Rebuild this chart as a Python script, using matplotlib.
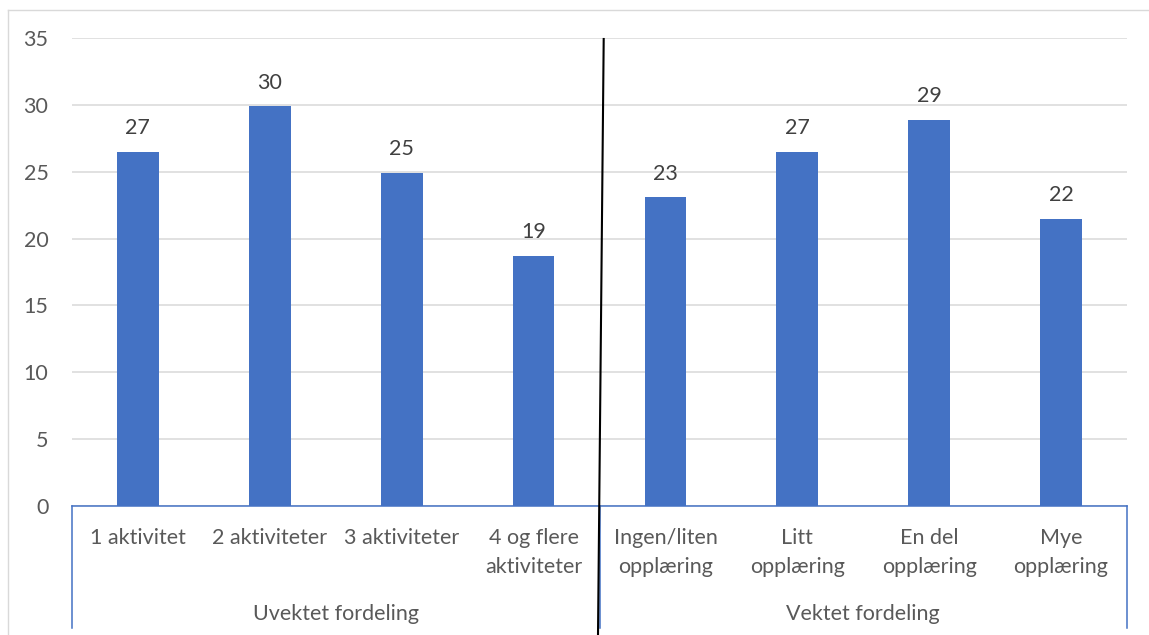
import matplotlib
matplotlib.use("Agg")
import matplotlib.pyplot as plt
from matplotlib.lines import Line2D

# Data
categories = ["1 aktivitet", "2 aktiviteter", "3 aktiviteter", "4 og flere\naktiviteter",
              "Ingen/liten\nopplæring", "Litt\nopplæring", "En del\nopplæring", "Mye\nopplæring"]
values = [26.5, 29.9, 24.9, 18.7, 23.1, 26.5, 28.9, 21.5]
groups = ["Uvektet fordeling", "Vektet fordeling"]
group_sizes = [4, 4]
y_ticks = [0, 5, 10, 15, 20, 25, 30, 35]

BAR = "#4472C4"
GRID = "#D9D9D9"
AXIS_TXT = "#595959"
LABEL_TXT = "#404040"
FONT = "Lato"
FS = 15.5

W, H = 1149, 635
fig = plt.figure(figsize=(W / 100, H / 100), dpi=100)
fig.patch.set_facecolor("white")

# plot area in pixels
left_px, right_px, top_px, base_px = 72, 1127, 38.3, 505.5
ax = fig.add_axes([left_px / W, 1 - base_px / H, (right_px - left_px) / W, (base_px - top_px) / H])
ax_h_px = base_px - top_px

def ax_y(px):
    """Convert a pixel row below the plot baseline into axes-fraction y."""
    return -(px - base_px) / ax_h_px

n = len(categories)
xs = list(range(n))
ax.bar(xs, values, width=0.316, color=BAR, zorder=3)
ax.set_xlim(-0.5, n - 0.5)
ax.set_ylim(0, 35)

ax.set_yticks(y_ticks)
ax.set_yticklabels([str(t) for t in y_ticks], fontfamily=FONT, fontsize=FS, color=AXIS_TXT)
ax.tick_params(axis="y", length=0, pad=17)
for lbl in ax.get_yticklabels():
    lbl.set_verticalalignment("center_baseline")
ax.grid(axis="y", color=GRID, linewidth=1.1, zorder=0)
ax.set_xticks([])
for s in ["top", "right", "left"]:
    ax.spines[s].set_visible(False)
ax.spines["bottom"].set_color(BAR)
ax.spines["bottom"].set_linewidth(1.1)
ax.spines["bottom"].set_zorder(4)

# value labels
for x, v in zip(xs, values):
    ax.annotate(f"{int(v + 0.5)}", (x, v), xytext=(0, 12.7), textcoords="offset points",
                ha="center", va="baseline", fontfamily=FONT, fontsize=FS, color=LABEL_TXT)

# category labels (one text per line)
tr = ax.get_xaxis_transform()
for x, lab in zip(xs, categories):
    for j, line in enumerate(lab.split("\n")):
        ax.text(x, ax_y(544 + j * 28.7), line, transform=tr, ha="center", va="baseline",
                fontfamily=FONT, fontsize=FS, color=AXIS_TXT)

# group labels and separators
start = 0
bottom_y = ax_y(628)
bounds = [-0.5]
for g, size in zip(groups, group_sizes):
    centre = start + (size - 1) / 2
    ax.text(centre, ax_y(620), g, transform=tr, ha="center", va="baseline",
            fontfamily=FONT, fontsize=FS, color=AXIS_TXT)
    start += size
    bounds.append(start - 0.5)
for b in bounds:
    ax.plot([b, b], [0, bottom_y], transform=tr, color=BAR, linewidth=1.1, clip_on=False, zorder=4)

# chart-area frame (top and left edges)
fig.add_artist(Line2D([7.5 / W, 1.0], [1 - 9.5 / H, 1 - 9.5 / H], color=GRID, linewidth=1.0))
fig.add_artist(Line2D([7.5 / W, 7.5 / W], [1 - 9.5 / H, 0], color=GRID, linewidth=1.0))

# hand-drawn divider between the two distributions
fig.add_artist(Line2D([603.7 / W, 598.0 / W], [1 - 39 / H, 0], color="black", linewidth=1.5, zorder=10))

fig.savefig("out.png", dpi=100, facecolor="white")
